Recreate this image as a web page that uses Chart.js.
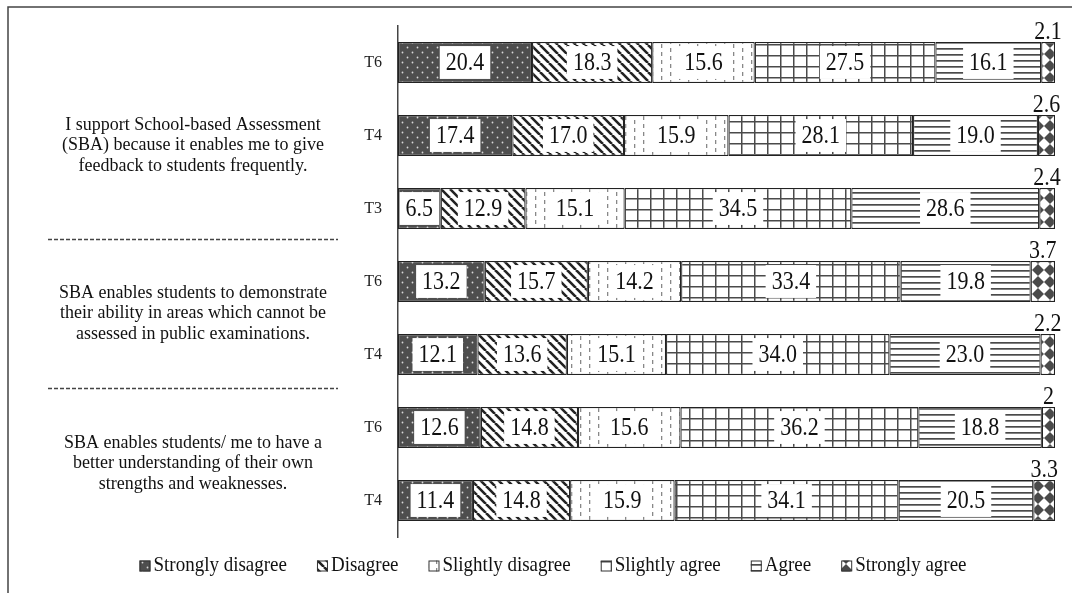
<!DOCTYPE html>
<html><head><meta charset="utf-8">
<script src="https://cdn.jsdelivr.net/npm/chart.js@4.4.1/dist/chart.umd.min.js"></script>
<style>html,body{margin:0;padding:0;background:#fff;}#wrap{position:relative;width:1072px;height:593px;}</style>
</head><body><div id="wrap"><canvas id="c" width="1072" height="593"></canvas></div>
<script>
// ---- data ----
const rowLabels = ['T6','T4','T3','T6','T4','T6','T4'];
const seriesNames = ['Strongly disagree','Disagree','Slightly disagree','Slightly agree','Agree','Strongly agree'];
const stronglyDisagree = ['20.4','17.4','6.5','13.2','12.1','12.6','11.4'];
const disagree         = ['18.3','17.0','12.9','15.7','13.6','14.8','14.8'];
const slightlyDisagree = ['15.6','15.9','15.1','14.2','15.1','15.6','15.9'];
const slightlyAgree    = ['27.5','28.1','34.5','33.4','34.0','36.2','34.1'];
const agree            = ['16.1','19.0','28.6','19.8','23.0','18.8','20.5'];
const stronglyAgree    = ['2.1','2.6','2.4','3.7','2.2','2','3.3'];
const statementLines = [
  ['I support School-based Assessment','(SBA) because it enables me to give','feedback to students frequently.'],
  ['SBA enables students to demonstrate','their ability in areas which cannot be','assessed in public examinations.'],
  ['SBA enables students/ me to have a','better understanding of their own','strengths and weaknesses.']
];
const seriesData = [stronglyDisagree, disagree, slightlyDisagree, slightlyAgree, agree, stronglyAgree];

// ---- patterns ----
const canvas = document.getElementById('c');
const mainCtx = canvas.getContext('2d');
function makePattern(w, h, draw) {
  const c = document.createElement('canvas'); c.width = w; c.height = h;
  const x = c.getContext('2d'); draw(x, w, h);
  return mainCtx.createPattern(c, 'repeat');
}
const DARK = '#4a4a4a';
const patterns = [
  makePattern(10, 10, (x) => { x.fillStyle = '#4e4e4e'; x.fillRect(0,0,10,10); x.fillStyle = '#d8d8d8';
    x.beginPath(); x.arc(2.5,2.5,0.9,0,Math.PI*2); x.arc(7.5,7.5,0.9,0,Math.PI*2); x.fill(); }),
  makePattern(9, 9, (x) => { x.fillStyle = '#fff'; x.fillRect(0,0,9,9); x.strokeStyle = '#222'; x.lineWidth = 2.6;
    x.beginPath(); [-9,0,9].forEach(k => { x.moveTo(k,0); x.lineTo(k+9,9); }); x.stroke(); }),
  makePattern(18, 8, (x) => { x.fillStyle = '#fff'; x.fillRect(0,0,18,8); x.fillStyle = '#888';
    x.fillRect(4,0,1.3,4); x.fillRect(13,4,1.3,4); }),
  makePattern(13, 11, (x) => { x.fillStyle = '#fff'; x.fillRect(0,0,13,11); x.fillStyle = DARK;
    x.fillRect(0,0,1.5,11); x.fillRect(0,0,13,1.5); }),
  makePattern(6, 6, (x) => { x.fillStyle = '#fff'; x.fillRect(0,0,6,6); x.fillStyle = DARK; x.fillRect(0,0,6,1.7); }),
  makePattern(12, 12, (x) => { x.fillStyle = '#fff'; x.fillRect(0,0,12,12); x.fillStyle = DARK;
    x.beginPath(); x.moveTo(6,0); x.lineTo(12,6); x.lineTo(6,12); x.lineTo(0,6); x.closePath(); x.fill(); })
];

const SERIF = '"Liberation Serif", "Times New Roman", serif';

// ---- plugins ----
const framePlugin = {
  id: 'frame',
  beforeDraw(chart) {
    const c = chart.ctx; c.save();
    c.strokeStyle = '#444'; c.lineWidth = 1.5;
    c.beginPath(); c.moveTo(8, 593); c.lineTo(8, 7); c.lineTo(1072, 7); c.stroke();
    c.restore();
  }
};

const valueLabels = {
  id: 'valueLabels',
  afterDatasetsDraw(chart) {
    const c = chart.ctx; c.save();
    c.font = '22px ' + SERIF; c.textAlign = 'center';
    chart.data.datasets.forEach((ds, i) => {
      const meta = chart.getDatasetMeta(i);
      meta.data.forEach((el, j) => {
        const p = el.getProps(['x','base','y','height'], true);
        const txt = String(ds.data[j]);
        const cx = (p.x + p.base) / 2;
        if (+ds.data[j] < 5) {
          c.save(); c.translate(cx, p.y - p.height/2 - 3); c.scale(1, 1.15);
          c.fillStyle = '#111'; c.textBaseline = 'alphabetic'; c.fillText(txt, 0, 0); c.restore();
        } else {
          const w = c.measureText(txt).width + 12, h = p.height - 8;
          c.fillStyle = '#fff'; c.fillRect(cx - w/2, p.y - h/2, w, h);
          c.save(); c.translate(cx, p.y + 1); c.scale(1, 1.15);
          c.fillStyle = '#111'; c.textBaseline = 'middle'; c.fillText(txt, 0, 0); c.restore();
        }
      });
    });
    c.restore();
  }
};

const statements = {
  id: 'statements',
  afterDraw(chart) {
    const c = chart.ctx, ys = chart.scales.y; c.save();
    const centers = [1.13, 3.43, 5.49];
    const seps = [2.42, 4.46];
    c.fillStyle = '#111'; c.font = '18px ' + SERIF; c.textAlign = 'center'; c.textBaseline = 'middle';
    statementLines.forEach((lines, g) => {
      const yc = ys.getPixelForValue(centers[g]);
      lines.forEach((t, k) => {
        c.save(); c.translate(193, yc + (k - 1) * 20.5); c.scale(1, 1.1); c.fillText(t, 0, 0); c.restore();
      });
    });
    c.strokeStyle = '#444'; c.lineWidth = 1.5; c.setLineDash([4, 2]);
    seps.forEach(v => { const y = Math.round(ys.getPixelForValue(v)) + 0.5;
      c.beginPath(); c.moveTo(48, y); c.lineTo(338, y); c.stroke(); });
    c.setLineDash([]);
    // legend
    c.font = '19px ' + SERIF; c.textBaseline = 'middle'; c.textAlign = 'left';
    const box = 11, gapBT = 3, gapItem = 30, ly = 566;
    const widths = seriesNames.map(n => box + gapBT + c.measureText(n).width);
    const total = widths.reduce((a, b) => a + b, 0) + gapItem * (seriesNames.length - 1);
    let x = 553 - total / 2;
    seriesNames.forEach((n, i) => {
      c.fillStyle = patterns[i]; c.fillRect(x, ly - box/2, box, box);
      c.strokeStyle = '#333'; c.lineWidth = 1; c.strokeRect(x + 0.5, ly - box/2 + 0.5, box - 1, box - 1);
      c.fillStyle = '#111';
      c.save(); c.translate(x + box + gapBT, ly); c.scale(1, 1.1); c.fillText(n, 0, 0); c.restore();
      x += widths[i] + gapItem;
    });
    c.restore();
  }
};

new Chart(canvas, {
  type: 'bar',
  data: {
    labels: rowLabels,
    datasets: seriesNames.map((n, i) => ({
      label: n, data: seriesData[i], backgroundColor: patterns[i],
      borderColor: '#222', borderWidth: 1.2, borderSkipped: false,
      barPercentage: 0.56, categoryPercentage: 1
    }))
  },
  options: {
    indexAxis: 'y', responsive: false, animation: false, devicePixelRatio: 1,
    layout: { padding: { left: 0, right: 17, top: 26, bottom: 56 } },
    plugins: { legend: { display: false }, tooltip: { enabled: false } },
    scales: {
      x: { stacked: true, min: 0, max: 100, display: false },
      y: { stacked: true, grid: { display: false, drawTicks: false },
        border: { display: true, color: '#444', width: 1.5 },
        ticks: { font: { family: SERIF, size: 16 }, color: '#222', padding: 16 },
        afterFit(s) { s.width = 398; } }
    }
  },
  plugins: [framePlugin, valueLabels, statements]
});
</script></body></html>
